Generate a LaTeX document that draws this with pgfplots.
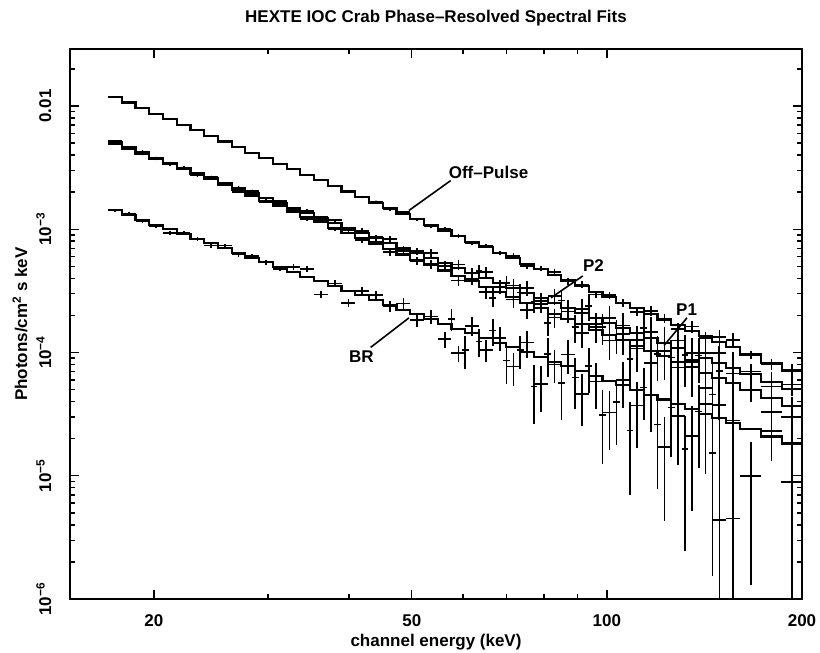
\documentclass[border=0pt]{standalone}
\usepackage{fontspec}
\setmainfont{Liberation Sans}
\usepackage{pgfplots}
\usepackage{pgfplotstable}
\pgfplotsset{compat=1.18}

\newcommand\figfont{\fontsize{17}{20}\selectfont\bfseries}

% folded model spectra: bin left edge (keV), one column per phase
\pgfplotstableread{
E      OP        P2        P1        BR
17.00  1.183e-2  4.955e-3  5.129e-3  1.422e-3
17.85  1.067e-2  4.519e-3  4.634e-3  1.303e-3
18.74  9.616e-3  4.111e-3  4.198e-3  1.191e-3
19.68  8.670e-3  3.750e-3  3.793e-3  1.091e-3
20.66  7.800e-3  3.412e-3  3.436e-3  1.000e-3
21.70  7.031e-3  3.112e-3  3.105e-3  9.141e-4
22.78  6.339e-3  2.831e-3  2.812e-3  8.375e-4
23.92  5.715e-3  2.582e-3  2.541e-3  7.674e-4
25.12  5.152e-3  2.350e-3  2.301e-3  7.015e-4
26.37  4.645e-3  2.143e-3  2.080e-3  6.427e-4
27.69  4.188e-3  1.950e-3  1.879e-3  5.875e-4
29.08  3.776e-3  1.778e-3  1.702e-3  5.383e-4
30.53  3.396e-3  1.622e-3  1.538e-3  4.932e-4
32.06  3.062e-3  1.476e-3  1.393e-3  4.508e-4
33.66  2.761e-3  1.346e-3  1.259e-3  4.130e-4
35.34  2.489e-3  1.225e-3  1.140e-3  3.784e-4
37.11  2.244e-3  1.117e-3  1.030e-3  3.459e-4
38.96  2.023e-3  1.016e-3  9.333e-4  3.170e-4
40.91  1.824e-3  9.268e-4  8.433e-4  2.904e-4
42.96  1.644e-3  8.433e-4  7.638e-4  2.655e-4
45.11  1.479e-3  7.691e-4  6.902e-4  2.432e-4
47.36  1.334e-3  7.015e-4  6.237e-4  2.228e-4
49.73  1.202e-3  6.383e-4  5.649e-4  2.037e-4
52.22  1.084e-3  5.821e-4  5.105e-4  1.866e-4
54.83  9.772e-4  5.297e-4  4.624e-4  1.710e-4
57.57  8.810e-4  4.831e-4  4.178e-4  1.563e-4
60.45  7.943e-4  4.395e-4  3.784e-4  1.432e-4
63.47  7.145e-4  4.009e-4  3.420e-4  1.312e-4
66.64  6.442e-4  3.648e-4  3.097e-4  1.199e-4
69.97  5.808e-4  3.327e-4  2.799e-4  1.099e-4
73.47  5.236e-4  3.027e-4  2.529e-4  1.005e-4
77.15  4.721e-4  2.761e-4  2.291e-4  9.204e-5
81.00  4.256e-4  2.518e-4  2.070e-4  8.433e-5
85.05  3.837e-4  2.291e-4  1.875e-4  7.709e-5
89.31  3.459e-4  2.089e-4  1.694e-4  7.063e-5
93.77  3.112e-4  1.901e-4  1.535e-4  6.471e-5
98.46  2.805e-4  1.734e-4  1.387e-4  5.916e-5
103.38 2.529e-4  1.578e-4  1.256e-4  5.420e-5
108.55 2.280e-4  1.439e-4  1.135e-4  4.966e-5
113.98 2.056e-4  1.309e-4  1.028e-4  4.539e-5
119.68 1.854e-4  1.194e-4  9.290e-5  4.159e-5
125.66 1.671e-4  1.089e-4  8.395e-5  3.811e-5
131.95 1.507e-4  9.908e-5  7.603e-5  3.483e-5
138.54 1.355e-4  9.036e-5  6.871e-5  3.192e-5
145.47 1.222e-4  8.222e-5  6.223e-5  2.924e-5
152.75 1.102e-4  7.499e-5  5.623e-5  2.673e-5
160.38 9.64e-5   6.64e-5   4.94e-5   2.388e-5
173.0  8.22e-5   5.77e-5   4.25e-5   2.084e-5
186.0  7.05e-5   5.02e-5   3.66e-5   1.828e-5
200.0  7.05e-5   5.02e-5   3.66e-5   1.828e-5
}\models

% data: bin centre, flux, relative 1-sigma error
\pgfplotstableread{
x      y         e
41.93  1.824e-3  0.02
44.03  1.677e-3  0.02
46.24  1.449e-3  0.025
48.54  1.374e-3  0.025
50.97  1.202e-3  0.03
53.53  1.051e-3  0.03
56.20  1.016e-3  0.03
59.01  8.810e-4  0.035
61.96  7.705e-4  0.035
65.06  7.359e-4  0.04
68.32  6.442e-4  0.04
71.73  6.098e-4  0.045
75.32  5.027e-4  0.05
79.08  4.815e-4  0.05
83.04  4.511e-4  0.055
87.19  3.760e-4  0.06
91.54  3.563e-4  0.06
96.12  2.956e-4  0.065
100.93 2.917e-4  0.07
105.97 2.529e-4  0.075
111.27 2.143e-4  0.08
116.84 2.179e-4  0.085
122.68 1.891e-4  0.09
128.81 1.554e-4  0.10
135.26 1.628e-4  0.11
142.01 1.314e-4  0.12
149.12 1.344e-4  0.13
156.58 1.267e-4  0.14
}\opdata

\pgfplotstableread{
x      y         e
17.43  4.955e-3  0.015
18.30  4.609e-3  0.015
19.21  4.070e-3  0.015
20.17  3.788e-3  0.015
21.18  3.344e-3  0.015
22.24  3.174e-3  0.02
23.35  2.831e-3  0.02
24.52  2.659e-3  0.02
25.75  2.303e-3  0.02
27.03  2.186e-3  0.02
28.38  2.048e-3  0.02
29.81  1.778e-3  0.025
31.29  1.687e-3  0.025
32.86  1.432e-3  0.025
34.50  1.413e-3  0.03
36.22  1.250e-3  0.03
38.04  1.184e-3  0.03
39.93  9.957e-4  0.035
41.93  9.731e-4  0.045
44.03  8.602e-4  0.05
46.24  8.306e-4  0.06
48.54  6.805e-4  0.065
50.97  6.638e-4  0.07
53.53  6.403e-4  0.08
56.20  5.032e-4  0.09
59.01  5.169e-4  0.09
61.96  4.395e-4  0.10
65.06  4.490e-4  0.11
68.32  3.393e-4  0.12
71.73  3.493e-4  0.13
75.32  3.330e-4  0.14
79.08  2.623e-4  0.15
83.04  2.871e-4  0.15
87.19  2.291e-4  0.17
91.54  2.256e-4  0.20
96.12  1.711e-4  0.22
100.93 1.907e-4  0.25
105.97 1.657e-4  0.27
111.27 1.266e-4  0.30
116.84 1.466e-4  0.32
122.68 1.194e-4  0.35
128.81 1.252e-4  0.38
135.26 8.422e-5  0.42
142.01 9.940e-5  0.45
149.12 9.866e-5  0.48
156.58 6.749e-5  0.50
}\ptwodata

\pgfplotstableread{
x      y         e
17.43  5.180e-3  0.015
18.30  4.588e-3  0.015
19.21  4.282e-3  0.015
20.17  3.717e-3  0.015
21.18  3.436e-3  0.02
22.24  3.136e-3  0.02
23.35  2.728e-3  0.02
24.52  2.592e-3  0.02
25.75  2.301e-3  0.02
27.03  2.018e-3  0.025
28.38  1.935e-3  0.025
29.81  1.668e-3  0.025
31.29  1.569e-3  0.03
32.86  1.393e-3  0.03
34.50  1.209e-3  0.03
36.22  1.186e-3  0.035
38.04  9.991e-4  0.035
39.93  9.893e-4  0.04
41.93  8.180e-4  0.05
44.03  7.867e-4  0.06
46.24  6.557e-4  0.07
48.54  6.611e-4  0.07
50.97  5.536e-4  0.08
53.53  5.207e-4  0.09
56.20  4.994e-4  0.10
59.01  3.844e-4  0.10
61.96  3.973e-4  0.11
65.06  3.078e-4  0.12
68.32  3.407e-4  0.13
71.73  2.687e-4  0.14
75.32  2.226e-4  0.16
79.08  2.474e-4  0.16
83.04  1.925e-4  0.18
87.19  2.156e-4  0.20
91.54  1.440e-4  0.24
96.12  1.612e-4  0.26
100.93 1.248e-4  0.30
105.97 1.407e-4  0.32
111.27 1.078e-4  0.36
116.84 8.224e-5  0.40
122.68 1.022e-4  0.42
128.81 7.556e-5  0.46
135.26 8.743e-5  0.50
142.01 5.153e-5  0.80
149.12 3.734e-5  0.70
156.58 2.812e-5  0.85
}\ponedata

\pgfplotstableread{
x      y         ep    em
17.43  1.422e-3  0.03  0.03
18.30  1.329e-3  0.03  0.03
19.21  1.167e-3  0.03  0.03
20.17  1.058e-3  0.035 0.035
21.18  9.300e-4  0.035 0.035
22.24  9.324e-4  0.035 0.035
23.35  8.375e-4  0.04  0.04
24.52  7.367e-4  0.04  0.04
25.75  7.366e-4  0.04  0.04
27.03  6.234e-4  0.045 0.045
28.38  6.051e-4  0.045 0.045
29.81  5.383e-4  0.05  0.05
31.29  4.784e-4  0.05  0.05
32.86  4.959e-4  0.055 0.055
34.50  4.750e-4  0.06  0.06
36.22  2.952e-4  0.07  0.07
38.04  3.632e-4  0.07  0.07
39.93  2.536e-4  0.08  0.08
41.93  3.136e-4  0.08  0.08
44.03  2.921e-4  0.09  0.09
46.24  2.359e-4  0.10  0.10
48.54  2.495e-4  0.10  0.10
50.97  1.833e-4  0.12  0.12
53.53  1.959e-4  0.13  0.13
56.20  1.283e-4  0.15  0.15
59.01  9.847e-5  0.15  0.15
61.96  1.647e-4  0.18  0.18
65.06  1.050e-4  0.20  0.20
68.32  1.319e-4  0.22  0.22
71.73  7.693e-5  0.30  0.30
75.32  1.206e-4  0.25  0.25
79.08  5.522e-5  0.40  0.40
83.04  8.011e-5  0.30  0.30
87.19  9.636e-5  0.30  0.30
91.54  4.591e-5  0.45  0.45
96.12  5.824e-5  0.40  0.40
100.93 3.254e-5  0.50  0.50
105.97 5.962e-5  0.40  0.40
111.27 3.725e-5  0.55  0.55
116.84 4.539e-5  0.50  0.50
122.68 1.705e-5  0.75  0.75
128.81 3.049e-5  0.60  0.60
135.26 2.090e-5  0.75  0.75
142.01 3.830e-5  0.55  0.55
149.12 4.4e-6    3.60  0.99
156.58 4.5e-6    3.50  0.99
}\brdata

% finer-binned points between the bins above (P1/P2 band and BR)
\pgfplotstableread{
x      y        e
63.49  4.61e-4  0.12
66.67  2.76e-4  0.15
70.01  3.65e-4  0.15
73.50  3.06e-4  0.17
77.18  2.60e-4  0.20
81.03  1.74e-4  0.22
85.09  2.64e-4  0.22
89.34  1.60e-4  0.25
93.80  2.39e-4  0.25
98.49  1.61e-4  0.28
103.42 1.40e-4  0.30
108.59 8.90e-5  0.40
114.02 1.58e-4  0.30
119.73 9.78e-5  0.40
125.71 9.10e-5  0.40
131.99 9.60e-5  0.45
138.60 9.45e-5  0.40
145.52 4.57e-5  0.75
149.10 7.06e-5  0.60
57.59  1.88e-4  0.20
60.47  1.05e-4  0.30
63.49  1.23e-4  0.25
66.67  1.51e-4  0.25
70.01  8.60e-5  0.35
73.50  1.05e-4  0.30
77.18  5.30e-5  0.50
81.03  9.70e-5  0.35
85.09  5.65e-5  0.50
89.34  6.27e-5  0.45
93.80  7.77e-5  0.40
98.49  3.10e-5  0.60
103.42 3.96e-5  0.55
108.59 2.33e-5  0.70
114.02 5.20e-5  0.45
119.73 2.60e-5  0.70
125.71 3.58e-5  0.60
131.99 1.64e-5  0.85
138.60 3.33e-5  0.65
145.52 1.53e-5  0.90
}\finedata

% wide high-energy bins, all four phases
\pgfplotstableread{
x      y        ep    em
166.7  9.6e-5   0.08  0.08
179.5  8.0e-5   0.10  0.10
193.0  7.2e-5   0.12  0.12
166.7  7.0e-5   0.15  0.15
179.5  5.3e-5   0.30  0.30
193.0  5.5e-5   0.20  0.20
166.7  5.0e-5   0.20  0.20
179.5  3.3e-5   0.60  0.60
193.0  3.0e-5   0.45  0.45
166.7  1.0e-5   0.87  0.87
179.5  2.3e-5   0.35  0.35
193.0  8.9e-6   2.70  0.99
}\widedata

\begin{document}
\begin{tikzpicture}
\useasboundingbox (0,0) rectangle (820pt,653pt);
\begin{axis}[
    at={(70pt,54pt)}, anchor=south west,
    scale only axis, width=732pt, height=550pt,
    xmode=log, ymode=log,
    xmin=14.85, xmax=200, ymin=1e-6, ymax=0.029,
    xtick={20,50,100,200}, xticklabels={20,50,100,200},
    minor xtick={30,40,60,70,80,90},
    ytick={1e-6,1e-5,1e-4,1e-3,1e-2},
    yticklabels={10\textsuperscript{−6},10\textsuperscript{−5},10\textsuperscript{−4},10\textsuperscript{−3},0.01},
    minor ytick={2e-6,3e-6,4e-6,5e-6,6e-6,7e-6,8e-6,9e-6,
                 2e-5,3e-5,4e-5,5e-5,6e-5,7e-5,8e-5,9e-5,
                 2e-4,3e-4,4e-4,5e-4,6e-4,7e-4,8e-4,9e-4,
                 2e-3,3e-3,4e-3,5e-3,6e-3,7e-3,8e-3,9e-3,2e-2},
    major tick length=9pt, minor tick length=5pt,
    tick style={line width=1.4pt, black},
    axis line style={line width=2pt},
    tick label style={font=\figfont},
    xticklabel style={anchor=base, yshift=-27pt},
    yticklabel style={rotate=90, anchor=base},
    yticklabel shift=19pt,
    title={HEXTE IOC Crab Phase--Resolved Spectral Fits},
    every axis title/.style={at={(rel axis cs:0.5,1)}, anchor=base, yshift=27pt, font=\figfont},
    xlabel={channel energy (keV)},
    every axis x label/.style={at={(rel axis cs:0.5,0)}, anchor=base, yshift=-47pt, font=\figfont},
    ylabel={Photons/cm\textsuperscript{2} s keV},
    every axis y label/.style={at={(rel axis cs:-0.0587,0.5)}, rotate=90, anchor=base, font=\figfont},
    data/.style={only marks, mark=*, mark size=1pt, black,
        error bars/.cd, x dir=both, x fixed relative=0.0244, y dir=both, y explicit relative,
        error mark=none, error bar style={line width=1.7pt}},
    model/.style={const plot, no marks, black, line width=2.1pt},
]
\addplot[model] table[x=E, y=OP] {\models};
\addplot[model] table[x=E, y=P2] {\models};
\addplot[model] table[x=E, y=P1] {\models};
\addplot[model] table[x=E, y=BR] {\models};

\addplot[data] table[x=x, y=y, y error=e] {\opdata};
\addplot[data] table[x=x, y=y, y error=e] {\ptwodata};
\addplot[data] table[x=x, y=y, y error=e] {\ponedata};
\addplot[data] table[x=x, y=y, y error plus=ep, y error minus=em] {\brdata};
\addplot[data, /pgfplots/error bars/x fixed relative=0.012]
    table[x=x, y=y, y error=e] {\finedata};
\addplot[data, /pgfplots/error bars/x fixed relative=0.037]
    table[x=x, y=y, y error plus=ep, y error minus=em] {\widedata};

% labels with pointer lines
\draw[line width=1.6pt] (axis cs:57.4,2.48e-3) -- (axis cs:49.5,1.42e-3);
\node[anchor=base west, font=\figfont, inner sep=0pt] at (axis cs:57.0,2.58e-3) {Off--Pulse};
\draw[line width=1.6pt] (axis cs:91.8,4.18e-4) -- (axis cs:82.0,2.78e-4);
\node[anchor=base west, font=\figfont, inner sep=0pt] at (axis cs:91.8,4.58e-4) {P2};
\draw[line width=1.6pt] (axis cs:132.9,1.91e-4) -- (axis cs:122.5,1.14e-4);
\node[anchor=base west, font=\figfont, inner sep=0pt] at (axis cs:127.8,1.99e-4) {P1};
\draw[line width=1.6pt] (axis cs:43.2,1.10e-4) -- (axis cs:49.5,1.91e-4);
\node[anchor=base west, font=\figfont, inner sep=0pt] at (axis cs:40.0,8.3e-5) {BR};
\end{axis}
\end{tikzpicture}
\end{document}
